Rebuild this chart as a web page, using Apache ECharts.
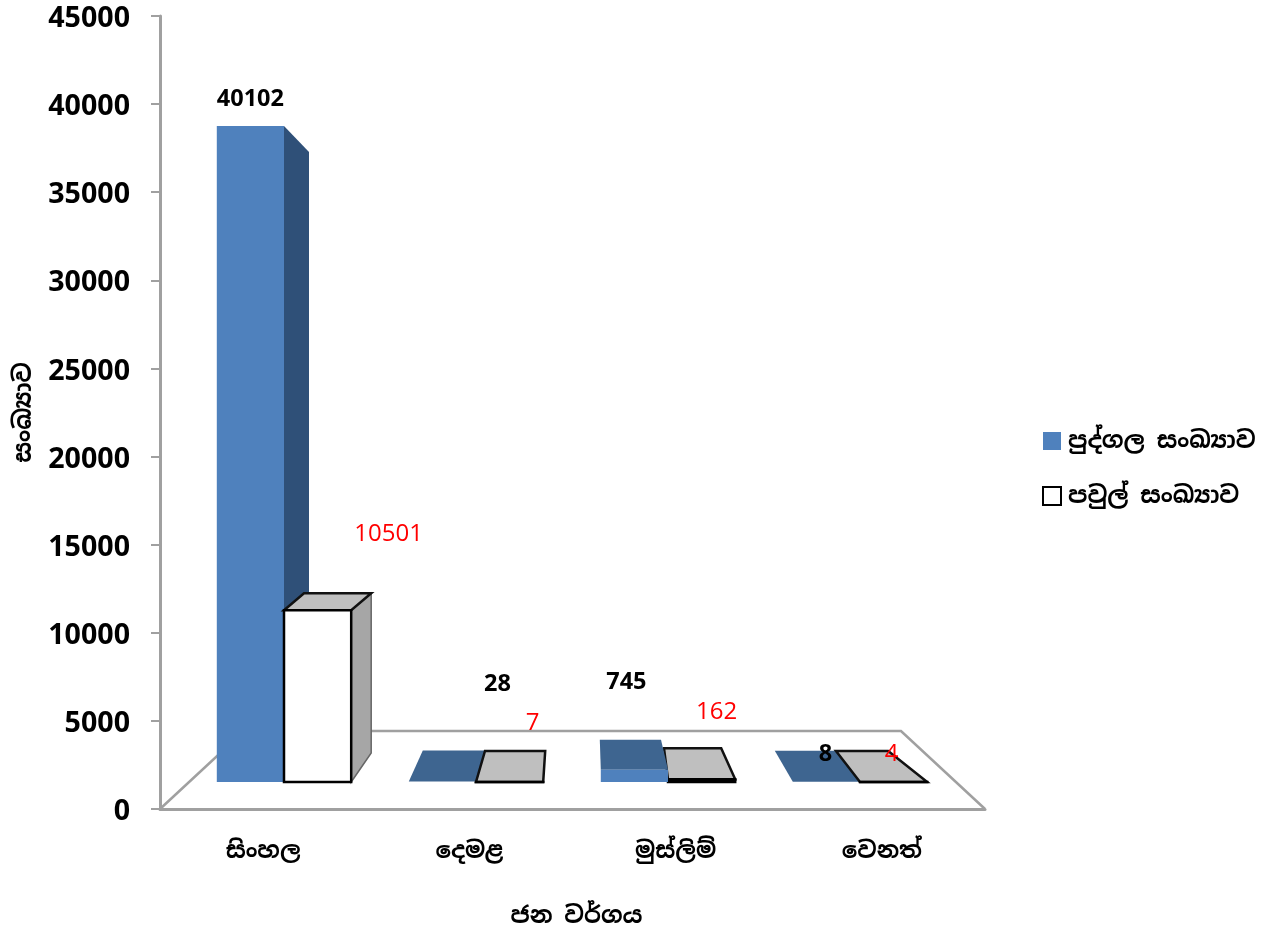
<!DOCTYPE html>
<html><head><meta charset="utf-8">
<style>html,body{margin:0;padding:0;background:#fff}#c{width:1272px;height:929px}</style>
<script src="https://cdn.jsdelivr.net/npm/echarts@6/dist/echarts.min.js"></script></head>
<body><div id="c"></div>
<script>
const categories = ['සිංහල','දෙමළ','මුස්ලිම්','වෙනත්'];
const personCount = [40102, 28, 745, 8];
const familyCount = [10501, 7, 162, 4];
const yTicks = [0,5000,10000,15000,20000,25000,30000,35000,40000,45000];
const personName = 'පුද්ගල සංඛ්‍යාව';
const familyName = 'පවුල් සංඛ්‍යාව';

const FONT = '"Open Sans","Noto Sans",sans-serif';
const SINHALA = '"Noto Sans Sinhala","Iskoola Pota","Noto Sans","DejaVu Sans",sans-serif';

/* perspective of each bar's back edge: [left dx, right dx, dy] */
const personDepth = [[25,25,26],[14,9,-31],[-1,-7,-30],[-18,-24,-31]];
const familyDepth = [[20,20,-17],[9,2,-31],[-4,-14,-31],[-24,-39,-31]];
/* label placement relative to the top of the bar's front: [dx, dy] */
const personLabel = [[0,-27],[55,-97],[-8,-88],[-1,-28]];
const familyLabel = [[71,-76],[23,-59],[15,-67],[-2,-28]];

function poly(points, fill, stroke, z2, lw){
  return {type:'polygon', shape:{points}, z2,
    style:{fill, stroke: stroke||null, lineWidth: stroke?(lw||2.5):0, lineJoin:'miter'}};
}
function render(isPerson){
  return function(params, api){
    const i = api.value(0), v = api.value(1);
    const base = api.coord([i,0]), top = api.coord([i,v]);
    const w = api.size([1,0])[0]*0.35;
    const x0 = isPerson ? base[0]-w : base[0], x1 = x0+w;
    const yb = base[1], yt = top[1];
    const d = (isPerson?personDepth:familyDepth)[i];
    const lab = (isPerson?personLabel:familyLabel)[i];
    const children = [];
    const z = isPerson ? (i===2 ? 30 : 10) : 20;
    const fl = isPerson ? '#4F81BD' : '#FFFFFF';
    const tp = isPerson ? '#3E6590' : '#BFBFBF';
    const sd = isPerson ? '#2F5078' : '#A6A6A6';
    const st = isPerson ? null : '#000';
    const edge = isPerson ? null : '#111';
    // side
    if (i===0) children.push(poly([[x1,yt],[x1+d[1],yt+d[2]],[x1+d[1],yb-(isPerson?150:29)],[x1,yb]], sd, isPerson?null:'#666', z, 1.5));
    // top
    if (d[2]<0) children.push(poly([[x0,yt],[x1,yt],[x1+d[1],yt+d[2]],[x0+d[0],yt+d[2]]], tp, edge, z+1));
    // front
    if (yb-yt>=1.5) children.push(poly([[x0,yb],[x1,yb],[x1,yt],[x0,yt]], st?(i===0?fl:'#000'):fl, st, z+2));
    else if (st) children.push(poly([[x0,yb],[x1,yb],[x1,yt],[x0,yt]], tp, st, z+2));
    children.push({type:'text', z2:60, style:{
      text:String(v), x:(x0+x1)/2+lab[0], y:yt+lab[1], align:'center', verticalAlign:'middle',
      font: isPerson ? 'bold 23.5px '+FONT : '24px '+FONT, fill: isPerson?'#000':'#FF0000'}});
    return {type:'group', children};
  };
}
const option = {
  backgroundColor:'#fff', animation:false,
  legend:{ left:1042, top:429, padding:0, orient:'vertical', icon:'rect', itemWidth:18, itemHeight:18, itemGap:31,
    textStyle:{fontWeight:'bold', fontSize:23.6, fontFamily:SINHALA, color:'#000', padding:[3,0,0,2]},
    data:[personName, familyName]},
  grid:[
    {left:160, top:16, width:825, height:793, outerBoundsMode:'none'},
    {left:188, top:46, width:768, height:736, outerBoundsMode:'none'}
  ],
  xAxis:[
    {type:'category', gridIndex:0, data:categories,
     name:'ජන වර්ගය', nameLocation:'middle', nameGap:96,
     nameTextStyle:{fontSize:23.4, fontWeight:'bold', fontFamily:SINHALA, color:'#000', padding:[0,0,0,8]},
     axisTick:{show:false}, axisLine:{lineStyle:{color:'#A0A0A0', width:3}},
     axisLabel:{fontSize:23, fontWeight:'bold', fontFamily:SINHALA, color:'#000', margin:31}},
    {type:'category', gridIndex:1, data:categories, show:false}
  ],
  yAxis:[
    {type:'value', gridIndex:0, min:yTicks[0], max:yTicks[yTicks.length-1], interval:yTicks[1],
     name:'සංඛ්‍යාව', nameLocation:'middle', nameGap:124, nameRotate:90,
     nameTextStyle:{fontSize:24, fontWeight:'bold', fontFamily:SINHALA, color:'#000'},
     splitLine:{show:false}, axisTick:{show:true,length:9,lineStyle:{color:'#A0A0A0',width:2}},
     axisLine:{show:true,lineStyle:{color:'#A0A0A0', width:3}},
     axisLabel:{fontSize:28.6, fontWeight:'bold', fontFamily:FONT, color:'#000', margin:30, verticalAlign:'top', lineHeight:6, formatter:v=>String(v)}},
    {type:'value', gridIndex:1, min:yTicks[0], max:yTicks[yTicks.length-1], show:false, splitLine:{show:false}}
  ],
  graphic:[{type:'polyline', silent:true, z:1,
    shape:{points:[[160,809],[244,731],[901,731],[985,809]]},
    style:{fill:null, stroke:'#A0A0A0', lineWidth:2.5}}],
  series:[
    {name:personName, type:'custom', xAxisIndex:1, yAxisIndex:1, z:5,
     itemStyle:{color:'#4F81BD'}, renderItem:render(true), clip:false,
     data:personCount.map((v,i)=>[i,v]), encode:{x:0,y:1}},
    {name:familyName, type:'custom', xAxisIndex:1, yAxisIndex:1, z:5,
     itemStyle:{color:'#fff', borderColor:'#000', borderWidth:2}, renderItem:render(false), clip:false,
     data:familyCount.map((v,i)=>[i,v]), encode:{x:0,y:1}}
  ]
};
echarts.init(document.getElementById('c'),null,{renderer:'canvas'}).setOption(option);
</script></body></html>
